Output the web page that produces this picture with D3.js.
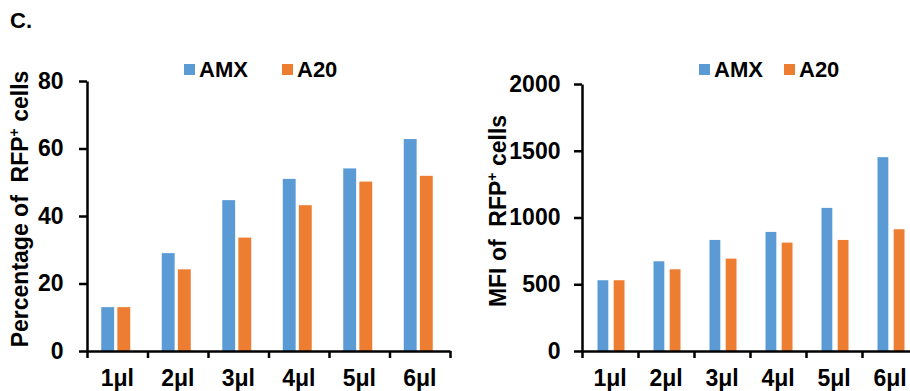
<!DOCTYPE html>
<html>
<head>
<meta charset="utf-8">
<script src="https://d3js.org/d3.v7.min.js"></script>
<style>
  body { margin: 0; background: #fff; }
  svg { display: block; font-family: "Liberation Sans", Arial, sans-serif; font-weight: bold; }
  text { white-space: pre; }
</style>
</head>
<body>
<svg id="fig" width="910" height="391"></svg>
<script>
// data
let categories = ["1μl", "2μl", "3μl", "4μl", "5μl", "6μl"];
let seriesNames = ["AMX", "A20"];
let seriesColors = ["#5B9BD5", "#ED7D31"];

// panel 1: percentage of RFP+ cells
let pctAMX = [13, 29, 44.7, 51, 54.1, 62.8];
let pctA20 = [13, 24.2, 33.6, 43.2, 50.2, 51.9];
let pctTicks = [0, 20, 40, 60, 80];

// panel 2: MFI of RFP+ cells
let mfiAMX = [530, 672, 832, 892, 1072, 1452];
let mfiA20 = [530, 612, 692, 812, 832, 912];
let mfiTicks = [0, 500, 1000, 1500, 2000];

let svg = d3.select("#fig");

svg.append("text")
  .attr("x", 10).attr("y", 28)
  .attr("font-size", "22px")
  .text("C.");

// draws one bar panel
function draw_panel(cfg) {
  let g = svg.append("g");

  let x = d3.scaleBand()
    .domain(categories)
    .range([cfg.left, cfg.right]);

  let x1 = d3.scaleBand()
    .domain(seriesNames)
    .range([0, cfg.groupWidth])
    .paddingInner(cfg.barGap);

  let y = d3.scaleLinear()
    .domain([0, cfg.max])
    .range([cfg.bottom, cfg.top]);

  let rows = categories.map((c, i) => ({cat: c, vals: [cfg.a[i], cfg.b[i]]}));

  // bars
  let groups = g.selectAll("g.grp")
    .data(rows)
    .enter()
    .append("g")
    .attr("class", "grp")
    .attr("transform", d => "translate(" + (x(d.cat) + (x.bandwidth() - cfg.groupWidth) / 2 + cfg.shift) + ",0)");

  groups.selectAll("rect")
    .data(d => d.vals.map((v, k) => ({name: seriesNames[k], v: v, k: k})))
    .enter()
    .append("rect")
    .attr("x", d => x1(d.name))
    .attr("y", d => y(d.v))
    .attr("width", x1.bandwidth())
    .attr("height", d => y(0) - y(d.v))
    .attr("fill", d => seriesColors[d.k]);

  // y axis
  let yAxis = g.append("g")
    .attr("transform", "translate(" + cfg.left + ",0)")
    .call(d3.axisLeft(y).tickValues(cfg.ticks).tickFormat(d3.format("d"))
      .tickSizeInner(8).tickSizeOuter(0).tickPadding(cfg.tickPad));
  yAxis.selectAll("text").attr("font-size", "23px").attr("fill", "#000");

  // x axis: ticks sit between the groups
  let xEdges = d3.scaleLinear().domain([0, categories.length]).range([cfg.left, cfg.right]);
  g.append("g")
    .attr("transform", "translate(0," + cfg.bottom + ")")
    .call(d3.axisBottom(xEdges).tickValues(d3.range(categories.length + 1))
      .tickSizeInner(7).tickSizeOuter(0).tickFormat(""));

  let xLabels = g.append("g")
    .attr("transform", "translate(0," + cfg.bottom + ")")
    .call(d3.axisBottom(x).tickSize(0).tickPadding(19));
  xLabels.select(".domain").remove();
  xLabels.selectAll("text").attr("font-size", "23px").attr("fill", "#000");

  g.selectAll(".domain, .tick line").attr("stroke", "#000").attr("stroke-width", 2.5);

  // axis title
  let title = g.append("text")
    .attr("transform", "translate(" + cfg.titleX + "," + cfg.titleY + ") rotate(-90)")
    .attr("text-anchor", "middle")
    .attr("font-size", "23px");
  title.append("tspan").text(cfg.title + "  RFP");
  title.append("tspan").attr("font-size", "14px").attr("dy", "-9").text("+");
  title.append("tspan").attr("dy", "9").text(" cells");

  // legend
  let leg = g.append("g");
  seriesNames.forEach((s, k) => {
    leg.append("rect")
      .attr("x", cfg.legendX[k]).attr("y", 64)
      .attr("width", 11).attr("height", 11)
      .attr("fill", seriesColors[k]);
    leg.append("text")
      .attr("x", cfg.legendX[k] + 15).attr("y", 77)
      .attr("font-size", "22px")
      .text(s);
  });
}

draw_panel({
  a: pctAMX, b: pctA20, max: 80, ticks: pctTicks,
  left: 87, right: 450, top: 81, bottom: 351,
  groupWidth: 29, barGap: 0.2, shift: -1.5, tickPad: 15.5,
  title: "Percentage of", titleX: 28, titleY: 209,
  legendX: [184, 282]
});

draw_panel({
  a: mfiAMX, b: mfiA20, max: 2000, ticks: mfiTicks,
  left: 582, right: 918, top: 84, bottom: 351,
  groupWidth: 27, barGap: 0.33, shift: 1, tickPad: 13.5,
  title: "MFI of", titleX: 506, titleY: 211,
  legendX: [699, 784]
});
</script>
</body>
</html>
